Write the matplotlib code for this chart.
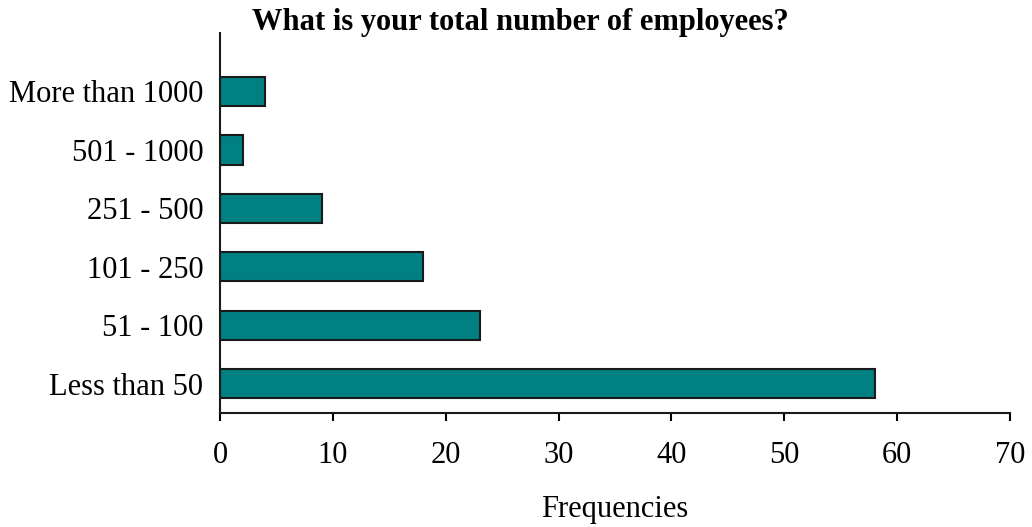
import matplotlib.pyplot as plt
import numpy as np

plt.rcParams['font.family'] = ['Liberation Serif', 'DejaVu Serif']

categories = ['Less than 50', '51 - 100', '101 - 250', '251 - 500', '501 - 1000', 'More than 1000']
counts = [58, 23, 18, 9, 2, 4]
x_ticks = [0, 10, 20, 30, 40, 50, 60, 70]

fig = plt.figure(figsize=(10.32, 5.27), dpi=100)
ax = fig.add_axes([0.2132, 0.2163, 0.7655, 0.7211])

pos = np.arange(len(categories))
ax.barh(pos, counts, height=0.5, color='#008080', edgecolor='#1a1a1a', linewidth=1.5)

ax.set_xlim(0, 70)
ax.set_ylim(-0.5, 6.0)
ax.set_xticks(x_ticks)
ax.set_yticks(pos)
ax.set_yticklabels(categories)

for s in ['top', 'right']:
    ax.spines[s].set_visible(False)
for s in ['left', 'bottom']:
    ax.spines[s].set_linewidth(1.5)
    ax.spines[s].set_color('#1a1a1a')

ax.tick_params(axis='y', length=0, pad=12, labelsize=22)
ax.tick_params(axis='x', length=6, width=1.5, pad=14, labelsize=22, direction='out')

ax.set_xlabel('Frequencies', fontsize=22, labelpad=18)
fig.text(0.504, 1 - 30 / 527, 'What is your total number of employees?', ha='center', va='baseline',
         fontsize=22, fontweight='bold')

fig.savefig('out.png', dpi=100)
